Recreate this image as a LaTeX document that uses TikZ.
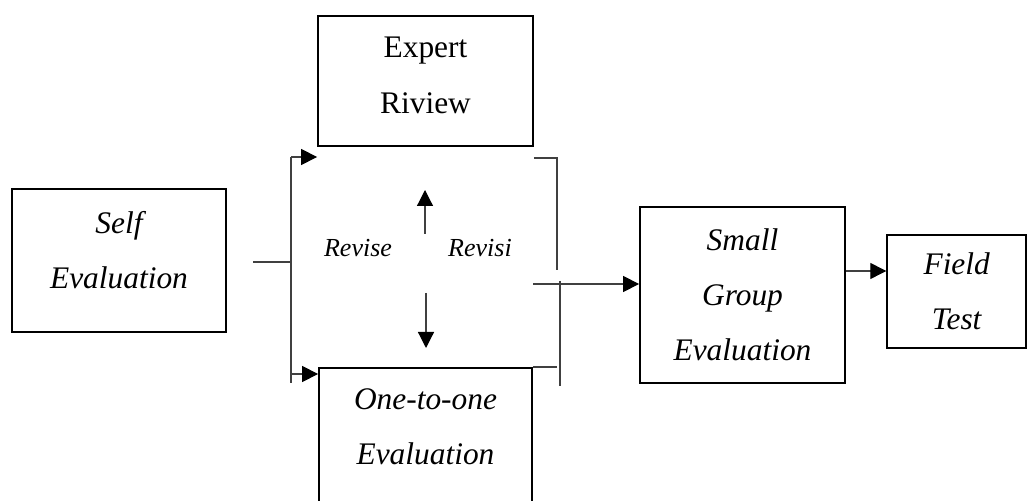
\documentclass[tikz,border=0pt]{standalone}
\usepackage{fontspec}
\setmainfont{Liberation Serif}
\usetikzlibrary{arrows.meta}

\begin{document}
\begin{tikzpicture}[x=0.5pt,y=-0.5pt,
	stage/.style={draw,line width=0.9pt,inner sep=0pt,align=center,font=\fontsize{15.7}{27.5}\selectfont\itshape},
	link/.style={line width=0.6pt,draw=black!75},
	tip/.style={link,-{Triangle[length=8pt,width=8pt,black]}},
	note/.style={inner sep=0pt,font=\fontsize{13}{15}\selectfont\itshape}]

	\clip (0,0) rectangle (1027,501);

	\node 	(self)		at	(119,260.5)	[stage,minimum width=107pt,minimum height=71.5pt,text depth=11pt]{Self\\Evaluation};

	\node 	(expert)	at	(425.5,81)	[stage,minimum width=107.5pt,minimum height=65pt,text depth=6pt,font=\fontsize{15.7}{28}\selectfont]{Expert\\Riview};
	\node 	(one)		at	(425.5,439)	[stage,minimum width=106.5pt,minimum height=71pt,text depth=12pt]{One-to-one\\Evaluation};

	\node 	(small)		at	(742.5,295)	[stage,minimum width=102.5pt,minimum height=88pt]{Small\\Group\\Evaluation};
	\node 	(field)		at	(956.7,291.5)	[stage,minimum width=69.5pt,minimum height=56.5pt]{Field\\Test};

	\node 	(revise)	at	(358,248)	[note]{Revise};
	\node 	(revisi)	at	(480,248)	[note]{Revisi};

	% split to the two reviews
	\coordinate (selfout)	at	(253,262);
	\coordinate (fork)	at	(291,262);
	\coordinate (forktop)	at	(291,157);
	\coordinate (forkin)	at	(291,374);
	\coordinate (forkbot)	at	(291,383);
	\draw[link]	(selfout)	--	(fork);
	\draw[link]	(forktop)	--	(forkbot);
	\draw[tip]	(forktop)	--	(expert.west |- forktop);
	\draw[tip]	(forkin)	--	(one.west |- forkin);

	% revisions
	\coordinate (up0)	at	(425,234);
	\coordinate (up1)	at	(425,190);
	\coordinate (dn0)	at	(426,293);
	\coordinate (dn1)	at	(426,348);
	\draw[tip]	(up0)	--	(up1);
	\draw[tip]	(dn0)	--	(dn1);

	% join to small group
	\coordinate (rtop)	at	(557,158);
	\coordinate (rmid)	at	(557,270);
	\coordinate (join)	at	(533,284);
	\coordinate (rlow)	at	(560,281);
	\coordinate (rbot)	at	(560,386);
	\draw[link]	(expert.east |- rtop)	--	(rtop)	--	(rmid);
	\draw[link]	(rlow)	--	(rbot);
	\draw[link]	(one.north east)	--	(one.north east -| rtop);
	\draw[tip]	(join)	--	(small.west |- join);

	\draw[tip]	(small.east |- 0,271)	--	(field.west |- 0,271);

\end{tikzpicture}
\end{document}
